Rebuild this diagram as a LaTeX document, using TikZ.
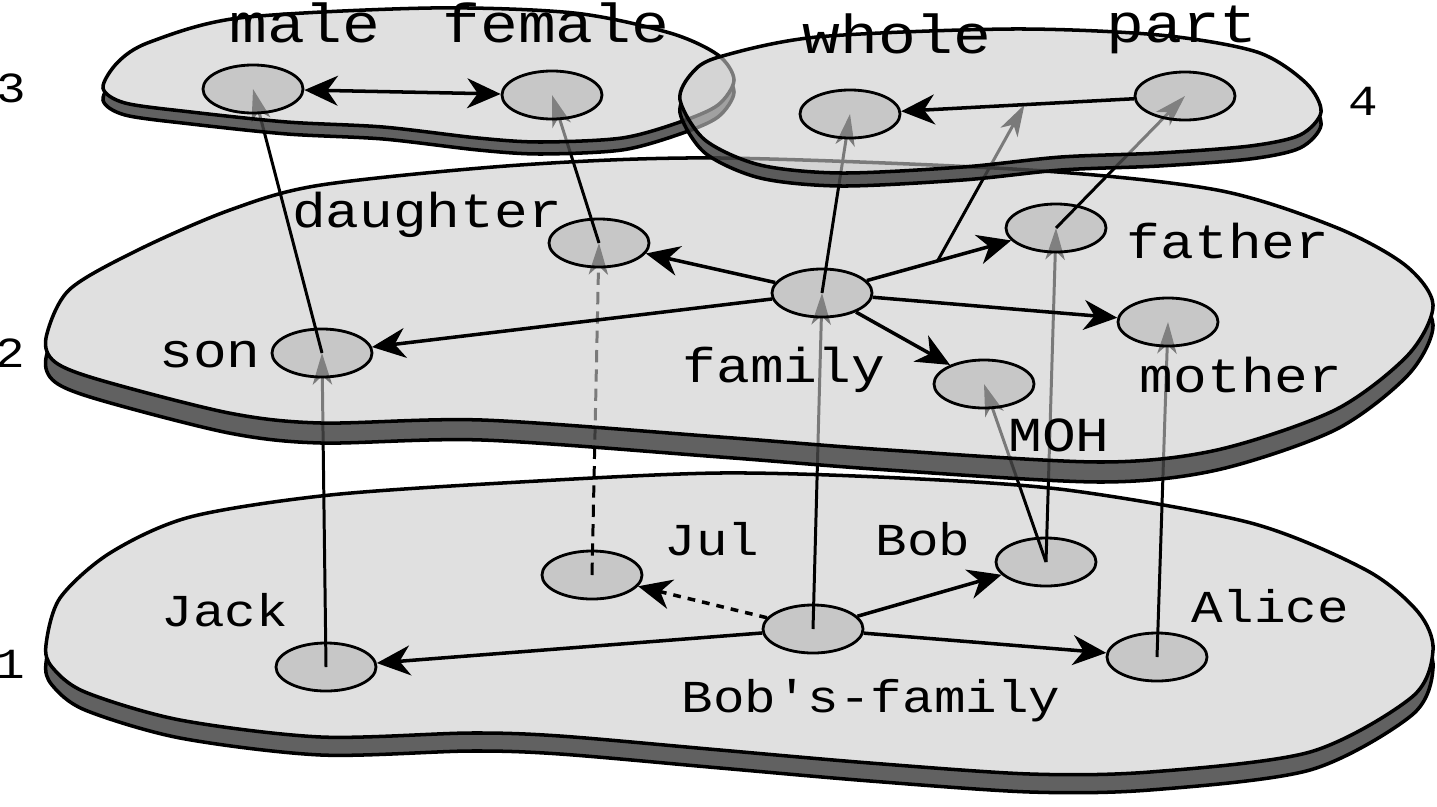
\documentclass[tikz,border=0pt]{standalone}
\usepackage{fontspec}
\setmonofont{Liberation Mono}[FakeStretch=1.15]
\usetikzlibrary{arrows.meta,shapes.geometric}

\pgfdeclarelayer{plane1}
\pgfdeclarelayer{nodes1}
\pgfdeclarelayer{up1}
\pgfdeclarelayer{plane2}
\pgfdeclarelayer{nodes2}
\pgfdeclarelayer{up2}
\pgfdeclarelayer{plane3}
\pgfdeclarelayer{plane4}
\pgfsetlayers{plane1,nodes1,up1,plane2,nodes2,up2,plane3,plane4,main}

\definecolor{planegray}{gray}{0.8}
\definecolor{sidegray}{gray}{0.27}
\definecolor{conceptgray}{gray}{0.56}

\tikzstyle{plane} = [fill=planegray, fill opacity=0.6, draw=black, line width=1pt]
\tikzstyle{side} = [fill=sidegray, fill opacity=0.85, draw=black, line width=1pt]
\tikzstyle{concept} = [ellipse, draw=black, line width=0.8pt, fill=conceptgray, fill opacity=0.3, minimum width=1cm, minimum height=0.48cm, inner sep=0pt]
\tikzstyle{edge} = [line width=1pt, -{Stealth[length=9.5pt,width=8.5pt,inset=3pt]}]
\tikzstyle{biedge} = [line width=1pt, {Stealth[length=9.5pt,width=8.5pt,inset=3pt]}-{Stealth[length=9.5pt,width=8.5pt,inset=3pt]}]
\tikzstyle{link} = [line width=0.85pt, -{Stealth[length=9pt,width=5.5pt,inset=2.5pt]}]
\tikzstyle{toplabel} = [anchor=base, inner sep=0pt, font=\ttfamily\fontsize{15.6pt}{15.6pt}\selectfont]
\tikzstyle{midlabel} = [anchor=base, inner sep=0pt, font=\ttfamily\fontsize{13.9pt}{13.9pt}\selectfont]
\tikzstyle{lowlabel} = [anchor=base, inner sep=0pt, font=\ttfamily\fontsize{13pt}{13pt}\selectfont]
\tikzstyle{numlabel} = [anchor=base, inner sep=0pt, font=\ttfamily\fontsize{12.2pt}{12.2pt}\selectfont]

\newcommand{\drawslab}[2]{%
  \begin{scope}[even odd rule]
    \clip (-20,-20) rectangle (1460,830) #1;
    \path[side, shift={(0,#2)}] #1;
  \end{scope}
  \path[plane] #1;
}

\begin{document}
\begin{tikzpicture}[x=0.01cm, y=-0.01cm]
    \useasboundingbox (0,0) rectangle (1437,806);

    \begin{pgfonlayer}{plane1}
      \drawslab{plot[smooth cycle] coordinates {(46,645) (60,598) (110,553) (190,517) (330,495) (520,482) (720,473) (900,478) (1067,490) (1251,523) (1366,570) (1418,612) (1433,650) (1412,697) (1310,752) (1150,772) (1030,774) (870,763) (720,750) (560,736) (470,733) (321,737) (180,720) (85,692) (52,667)}}{18}
    \end{pgfonlayer}
    \begin{pgfonlayer}{plane2}
      \drawslab{plot[smooth cycle] coordinates {(46,338) (69,290) (138,250) (230,210) (321,185) (520,165) (720,158) (1029,170) (1217,190) (1335,227) (1405,265) (1433,305) (1408,355) (1335,410) (1217,450) (1100,462) (888,450) (720,437) (482,420) (321,423) (229,413) (100,380) (55,362)}}{20}
    \end{pgfonlayer}
    \begin{pgfonlayer}{plane3}
      \drawslab{plot[smooth cycle] coordinates {(103,88) (118,62) (150,42) (239,18) (431,8) (574,13) (670,33) (718,55) (734,80) (718,105) (680,122) (622,138) (540,142) (478,138) (383,127) (287,122) (191,112) (125,103)}}{12}
    \end{pgfonlayer}
    \begin{pgfonlayer}{plane4}
      \drawslab{plot[smooth cycle] coordinates {(680,100) (692,73) (719,57) (817,37) (1012,29) (1159,35) (1257,52) (1306,83) (1321,112) (1300,135) (1250,146) (1159,153) (1061,157) (963,167) (841,173) (760,165) (705,140)}}{13}
    \end{pgfonlayer}

    \begin{pgfonlayer}{nodes1}
      \node (jack) [concept] at (326,667) {};
      \node (jul) [concept] at (592,575) {};
      \node (bob) [concept] at (1046,562) {};
      \node (bobsfamily) [concept] at (813,629) {};
      \node (alice) [concept] at (1157,657) {};
      \node (jack-l) [lowlabel] at (225,626) {Jack};
      \node (jul-l) [lowlabel] at (712,555) {Jul};
      \node (bob-l) [lowlabel] at (923,555) {Bob};
      \node (alice-l) [lowlabel] at (1270,622) {Alice};
      \node (bobsfamily-l) [lowlabel] at (871,712) {Bob's-family};
      \node (one) [numlabel] at (10,678) {1};

      \draw[edge] (bobsfamily) -- (jack);
      \draw[edge, dash pattern=on 2.2pt off 2pt] (bobsfamily) -- (jul);
      \draw[edge] (bobsfamily) -- (bob);
      \draw[edge] (bobsfamily) -- (alice);
    \end{pgfonlayer}

    \begin{pgfonlayer}{nodes2}
      \node (son) [concept] at (322,353) {};
      \node (daughter) [concept] at (599,243) {};
      \node (family) [concept] at (822,293) {};
      \node (father) [concept] at (1056,228) {};
      \node (mother) [concept] at (1168,322) {};
      \node (moh) [concept] at (984,384) {};
      \node (son-l) [midlabel] at (210,367) {son};
      \node (daughter-l) [midlabel] at (427,227) {daughter};
      \node (family-l) [midlabel] at (784,382) {family};
      \node (father-l) [midlabel] at (1228,258) {father};
      \node (mother-l) [midlabel] at (1241,392) {mother};
      \node (moh-l) [midlabel] at (1059,451) {MOH};
      \node (two) [numlabel] at (10,367) {2};

      \draw[edge] (family) -- (son);
      \draw[edge] (family) -- (daughter);
      \draw[edge] (family) -- (father);
      \draw[edge] (family) -- (mother);
      \draw[edge] (family) -- (moh);
    \end{pgfonlayer}

    \node (male) [concept] at (253,89) {};
    \node (female) [concept] at (552,95) {};
    \node (whole) [concept] at (850,114) {};
    \node (part) [concept] at (1185,96) {};
    \node (male-l) [toplabel] at (305,42) {male};
    \node (female-l) [toplabel] at (556,42) {female};
    \node (whole-l) [toplabel] at (897,54) {whole};
    \node (part-l) [toplabel] at (1182,42) {part};
    \node (three) [numlabel] at (11,102) {3};
    \node (four) [numlabel] at (1363,115) {4};

    \draw[biedge] (male) -- (female);
    \draw[edge] (part) -- (whole);

    \path (family) -- (father) coordinate[pos=0.49] (famfather);
    \path (part) -- (whole) coordinate[pos=0.47] (partwhole);

    \begin{pgfonlayer}{up1}
      \draw[link] (jack.center) -- (son.center);
      \draw[link, dash pattern=on 3.5pt off 2pt] (jul.center) -- (daughter.center);
      \draw[link] (bobsfamily.center) -- (family.center);
      \draw[link] (bob.center) -- (moh.center);
      \draw[link] (bob.center) -- (father.center);
      \draw[link] (alice.center) -- (mother.center);
    \end{pgfonlayer}

    \begin{pgfonlayer}{up2}
      \draw[link] (son.center) -- (male.center);
      \draw[link] (daughter.center) -- (female.center);
      \draw[link] (family.center) -- (whole.center);
      \draw[link] (father.center) -- (part.center);
      \draw[link] (famfather) -- (partwhole);
    \end{pgfonlayer}
  \end{tikzpicture}
\end{document}
